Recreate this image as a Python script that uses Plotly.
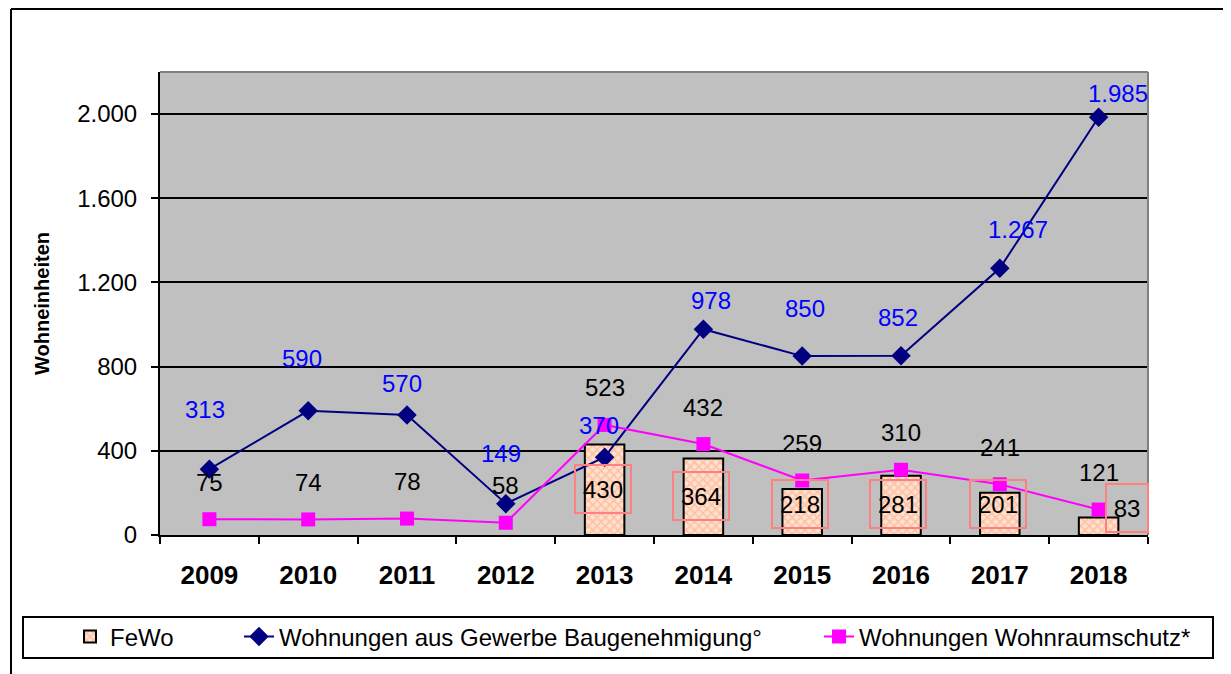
import plotly.graph_objects as go

# ---------------- data ----------------
years = ["2009", "2010", "2011", "2012", "2013", "2014", "2015", "2016", "2017", "2018"]
fewo = [None, None, None, None, 430, 364, 218, 281, 201, 83]
gewerbe = [313, 590, 570, 149, 370, 978, 850, 852, 1267, 1985]
wohnraumschutz = [75, 74, 78, 58, 523, 432, 259, 310, 241, 121]
y_ticks = [0, 400, 800, 1200, 1600, 2000]
y_tick_labels = ["0", "400", "800", "1.200", "1.600", "2.000"]

# label offsets (style only, pixels)
gew_dx = [-4, -6, -5, -5, -6, 8, 3, -3, 18, 19]
gew_dy = [60, 52, 32, 50, 32, 29, 48, 38, 39, 24]
fewo_dx = [0, 0, 0, 0, -2, -2, -2, -3, -2, 28]
fewo_dy = [0, 0, 0, 0, -44, -38, -15, -28, -11, 10]

FONT = "Arial, Liberation Sans, sans-serif"

# plot-area geometry in screen pixels (figure sits at the page's 8px body margin)
PX0, PY0 = 160, 535          # plot-area left / bottom
PW, PH = 988, 463            # plot-area size


def px(x):
    return (x - PX0) / PW


def py(y):
    return (PY0 - y) / PH


def fmt(v):
    return f"{v:,}".replace(",", ".")


fig = go.Figure()

fig.add_trace(go.Bar(
    x=years, y=fewo, name="FeWo", width=0.4,
    marker=dict(color="#FFDCC0", line=dict(color="black", width=2),
                pattern=dict(shape="x", fgcolor="#FF9C80", bgcolor="#FFE2CC",
                             size=6, solidity=0.45)),
    legend="legend",
))
fig.add_trace(go.Scatter(
    x=years, y=gewerbe, name="Wohnungen aus Gewerbe Baugenehmigung°",
    mode="lines+markers", line=dict(color="#000080", width=2),
    marker=dict(symbol="diamond", size=15, color="#000080"),
    legend="legend2",
))
fig.add_trace(go.Scatter(
    x=years, y=wohnraumschutz, name="Wohnungen Wohnraumschutz*",
    mode="lines+markers", line=dict(color="#FF00FF", width=2),
    marker=dict(symbol="square", size=14, color="#FF00FF"),
    legend="legend3",
))

annotations = []
for i, y in enumerate(years):
    # category axis: annotation x given as category index
    annotations.append(dict(
        x=i, y=gewerbe[i], text=fmt(gewerbe[i]), showarrow=False,
        xshift=gew_dx[i], yshift=gew_dy[i], yanchor="middle",
        font=dict(family=FONT, size=24, color="#0000FF")))
    annotations.append(dict(
        x=i, y=wohnraumschutz[i], text=fmt(wohnraumschutz[i]), showarrow=False,
        yshift=37, yanchor="middle",
        font=dict(family=FONT, size=24, color="black")))
    if fewo[i] is not None:
        txt = fmt(fewo[i])
        annotations.append(dict(
            x=i, y=fewo[i], text=txt, showarrow=False,
            xshift=fewo_dx[i], yshift=fewo_dy[i], yanchor="middle",
            width=14 * len(txt) + 12, height=46,
            bordercolor="#FF8080", borderwidth=2, borderpad=0,
            font=dict(family=FONT, size=24, color="black")))

shapes = [
    # plot area top/right border
    dict(type="line", xref="paper", yref="paper", x0=0, x1=1, y0=1, y1=1,
         line=dict(color="#808080", width=2)),
    dict(type="line", xref="paper", yref="paper", x0=1, x1=1, y0=0, y1=1,
         line=dict(color="#808080", width=2)),
    # legend frame
    dict(type="rect", xref="paper", yref="paper",
         x0=px(23), x1=px(1213), y0=py(617), y1=py(658),
         line=dict(color="black", width=2), fillcolor="rgba(0,0,0,0)", layer="below"),
    # outer chart frame (left and top edges visible)
    dict(type="line", xref="paper", yref="paper",
         x0=px(11), x1=px(11), y0=py(9), y1=py(690),
         line=dict(color="black", width=2)),
    dict(type="line", xref="paper", yref="paper",
         x0=px(11), x1=px(1250), y0=py(9), y1=py(9),
         line=dict(color="black", width=2)),
]

leg_common = dict(orientation="h", yanchor="middle", y=py(637),
                  xanchor="left", bgcolor="rgba(0,0,0,0)", borderwidth=0,
                  font=dict(family=FONT, size=24, color="black"))

fig.update_layout(
    width=1223, height=666,
    margin=dict(l=152, r=83, t=64, b=139, autoexpand=False),
    paper_bgcolor="white", plot_bgcolor="#C0C0C0",
    font=dict(family=FONT, color="black"),
    showlegend=True,
    legend=dict(x=px(70), **leg_common),
    legend2=dict(x=px(239), **leg_common),
    legend3=dict(x=px(819), **leg_common),
    xaxis=dict(type="category", showline=True, linecolor="black", linewidth=2,
               ticks="outside", tickson="boundaries", ticklen=7, tickwidth=2,
               tickcolor="black", showgrid=False, zeroline=False, automargin=False,
               range=[-0.5, 9.5], tickangle=0,
               tickfont=dict(family=FONT, size=26, color="black", weight="bold"),
               ticklabelstandoff=16),
    yaxis=dict(range=[0, 2200], tickvals=y_ticks, ticktext=y_tick_labels,
               showline=True, linecolor="black", linewidth=2, automargin=False,
               ticks="outside", ticklen=7, tickwidth=2, tickcolor="black",
               showgrid=True, gridcolor="black", gridwidth=2, zeroline=False,
               tickfont=dict(family=FONT, size=24, color="black"),
               ticklabelstandoff=9,
               title=dict(text="Wohneinheiten", standoff=22,
                          font=dict(family=FONT, size=20, color="black", weight="bold"))),
    annotations=annotations,
    shapes=shapes,
)

fig.write_html("out.html")
